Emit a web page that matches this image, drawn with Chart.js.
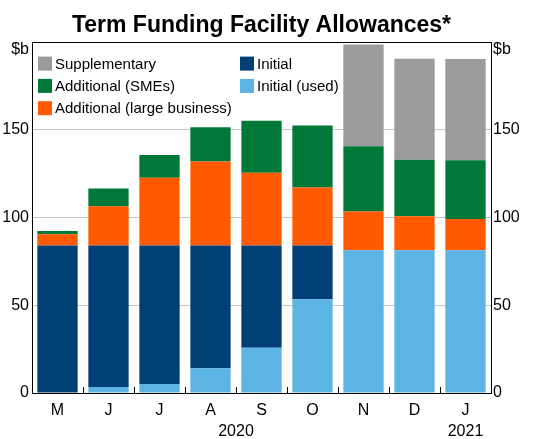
<!DOCTYPE html>
<html>
<head>
<meta charset="utf-8">
<script src="https://cdn.jsdelivr.net/npm/chart.js@4/dist/chart.umd.min.js"></script>
<style>
  html, body { margin: 0; padding: 0; background: #fff; }
  #wrap { width: 543px; height: 439px; position: relative; }
</style>
</head>
<body>
<div id="wrap"><canvas id="tffChart"></canvas></div>
<script>
// months, May 2020 to Jan 2021
const months = ['M', 'J', 'J', 'A', 'S', 'O', 'N', 'D', 'J'];
const yearLabels = [
    { text: '2020', from: 0, to: 7 },
    { text: '2021', from: 8, to: 8 }
];

// $b, stacked from the bottom up
const initialUsed = [0, 3.4, 5.1, 14.1, 25.7, 53.3, 81.3, 81.3, 81.3];
const initial = [84, 80.6, 78.9, 69.9, 58.3, 30.7, 0, 0, 0];
const additionalLarge = [6.3, 22.3, 38.5, 47.8, 41.3, 33, 22, 19.3, 17.7];
const additionalSMEs = [1.9, 10.1, 12.9, 19.5, 29.7, 35.2, 37.1, 32.1, 33.4];
const supplementary = [0, 0, 0, 0, 0, 0, 57.9, 57.6, 57.7];

const yTicks = [0, 50, 100, 150, 200];
const unitLabel = '$b';

const FONT = 'Arial, "Liberation Sans", sans-serif';

// legend in two columns, like the original
const legendColumns = [
    ['Supplementary', 'Additional (SMEs)', 'Additional (large business)'],
    ['Initial', 'Initial (used)']
];

const framePlugin = {
    id: 'frame',
    afterDatasetsDraw(chart) {
        const ctx = chart.ctx;
        const a = chart.chartArea;
        const x = chart.scales.x;
        ctx.save();
        // small inward ticks between months
        ctx.strokeStyle = '#000';
        ctx.lineWidth = 1;
        for (let i = 1; i < months.length; i++) {
            const px = Math.round((x.getPixelForValue(i - 1) + x.getPixelForValue(i)) / 2) + 0.5;
            ctx.beginPath();
            ctx.moveTo(px, a.bottom);
            ctx.lineTo(px, a.bottom - 6);
            ctx.stroke();
        }
        // frame round the plot
        ctx.strokeRect(Math.round(a.left) + 0.5, Math.round(a.top) + 0.5,
            Math.round(a.right - a.left), Math.round(a.bottom - a.top));
        ctx.restore();
    },
    afterDraw(chart) {
        const ctx = chart.ctx;
        const a = chart.chartArea;
        const x = chart.scales.x;
        ctx.save();
        ctx.fillStyle = '#000';

        // unit labels on both sides
        ctx.font = '16px ' + FONT;
        ctx.textBaseline = 'middle';
        ctx.textAlign = 'right';
        ctx.fillText(unitLabel, a.left - 3, a.top + 8);
        ctx.textAlign = 'left';
        ctx.fillText(unitLabel, a.right + 2, a.top + 8);

        // years under the months
        ctx.textAlign = 'center';
        yearLabels.forEach(y => {
            const px = (x.getPixelForValue(y.from) + x.getPixelForValue(y.to)) / 2;
            ctx.fillText(y.text, px, a.bottom + 39);
        });

        // legend
        ctx.font = '15px ' + FONT;
        ctx.textAlign = 'left';
        const colX = [a.left + 6, a.left + 208];
        legendColumns.forEach((col, c) => {
            col.forEach((label, r) => {
                const ds = chart.data.datasets.find(d => d.label === label);
                const cy = a.top + 22 + r * 22.3;
                ctx.fillStyle = ds.backgroundColor;
                ctx.fillRect(colX[c], cy - 7, 14, 14);
                ctx.fillStyle = '#000';
                ctx.fillText(label, colX[c] + 17, cy + 1);
            });
        });
        ctx.restore();
    }
};

const ctx = document.getElementById('tffChart').getContext('2d');
new Chart(ctx, {
    type: 'bar',
    data: {
        labels: months,
        datasets: [
            { label: 'Initial (used)', data: initialUsed, backgroundColor: '#5bb4e3' },
            { label: 'Initial', data: initial, backgroundColor: '#023f74' },
            { label: 'Additional (large business)', data: additionalLarge, backgroundColor: '#ff5a00' },
            { label: 'Additional (SMEs)', data: additionalSMEs, backgroundColor: '#007838' },
            { label: 'Supplementary', data: supplementary, backgroundColor: '#9b9b9b' }
        ]
    },
    options: {
        responsive: true,
        maintainAspectRatio: false,
        animation: false,
        devicePixelRatio: 1,
        layout: { padding: 0 },
        datasets: {
            bar: { categoryPercentage: 1, barPercentage: 0.79, borderWidth: 0 }
        },
        plugins: {
            legend: { display: false },
            tooltip: { enabled: false },
            title: {
                display: true,
                text: 'Term Funding Facility Allowances*',
                fullSize: false,
                color: '#000',
                font: { family: FONT, size: 23, weight: 'bold' },
                padding: { top: 12, bottom: 2 }
            }
        },
        scales: {
            x: {
                stacked: true,
                grid: { display: false, drawTicks: false },
                border: { display: false },
                ticks: { color: '#000', font: { family: FONT, size: 16 }, padding: 8, maxRotation: 0 },
                afterFit(scale) { scale.height = 46; }
            },
            y: {
                stacked: true,
                position: 'left',
                min: 0, max: 200,
                afterBuildTicks(scale) { scale.ticks = yTicks.map(v => ({ value: v })); },
                grid: {
                    drawTicks: false,
                    color: c => (c.tick.value === 0 || c.tick.value === 200) ? 'rgba(0,0,0,0)' : '#c4c4c4'
                },
                border: { display: false },
                ticks: {
                    color: '#000', font: { family: FONT, size: 16 }, padding: 3,
                    callback: v => v === 200 ? '' : v
                },
                afterFit(scale) { scale.width = 32; }
            },
            y2: {
                stacked: true,
                position: 'right',
                min: 0, max: 200,
                afterBuildTicks(scale) { scale.ticks = yTicks.map(v => ({ value: v })); },
                grid: { display: false, drawTicks: false },
                border: { display: false },
                ticks: {
                    color: '#000', font: { family: FONT, size: 16 }, padding: 2,
                    callback: v => v === 200 ? '' : v
                },
                afterFit(scale) { scale.width = 52; }
            }
        }
    },
    plugins: [framePlugin]
});
</script>
</body>
</html>
